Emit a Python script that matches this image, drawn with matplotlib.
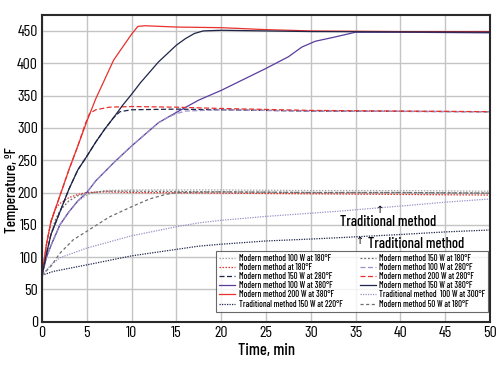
import matplotlib
matplotlib.use("Agg")
import matplotlib.pyplot as plt

plt.rcParams['font.family'] = ['Barlow Condensed', 'Roboto Condensed', 'DejaVu Sans']

# time (min) / temperature (F)
t_red380 = [0, 0.5, 1, 2, 3, 4, 5, 6, 7, 8, 9, 10, 10.7, 11.5, 15, 20, 25, 30, 40, 50]
T_red380 = [72, 120, 155, 195, 235, 272, 310, 345, 375, 405, 425, 445, 457, 458, 456, 455, 452, 450, 449, 449]

t_navy380 = [0, 0.5, 1, 2, 3, 4, 5, 6, 7, 8, 9, 10, 11, 12, 13, 14, 15, 16, 17, 18, 20, 30, 50]
T_navy380 = [72, 105, 135, 170, 205, 235, 256, 278, 298, 316, 335, 352, 370, 386, 402, 415, 428, 438, 446, 450, 451, 449, 448]

t_purp380 = [0, 0.5, 1, 2, 3, 4, 5, 6, 7, 8, 9, 10, 11, 12, 13, 14, 15, 17.5, 20, 22.5, 25, 27.5, 29, 30.5, 32.5, 35, 40, 50]
T_purp380 = [72, 100, 118, 150, 170, 187, 200, 218, 232, 246, 259, 272, 284, 296, 308, 316, 324, 343, 358, 375, 392, 410, 425, 434, 440, 448, 448, 447]

t_red280 = [0, 0.5, 1, 2, 3, 4, 4.8, 5.3, 6, 7.5, 10, 15, 20, 30, 40, 50]
T_red280 = [72, 120, 155, 195, 235, 272, 305, 322, 328, 332, 333, 332, 330, 327, 326, 325]

t_navy280 = [0, 0.5, 1, 2, 3, 4, 5, 6, 7, 8, 8.7, 10, 15, 20, 30, 50]
T_navy280 = [72, 105, 135, 170, 205, 235, 256, 278, 298, 316, 325, 328, 329, 328, 326, 325]

t_purp280 = [0, 0.5, 1, 2, 3, 4, 5, 6, 7, 8, 9, 10, 11, 12, 13, 14, 15, 16, 20, 30, 50]
T_purp280 = [72, 100, 118, 150, 170, 187, 200, 218, 232, 246, 259, 272, 284, 296, 308, 316, 322, 326, 328, 326, 325]

t_red180 = [0, 0.5, 1, 1.5, 2, 3, 4, 5, 7, 10, 20, 30, 40, 50]
T_red180 = [72, 120, 155, 175, 183, 192, 197, 200, 201, 200, 199, 198, 197, 196]

t_m150_180 = [0, 0.5, 1, 1.5, 2, 3, 4, 5, 7, 10, 20, 30, 40, 50]
T_m150_180 = [72, 105, 135, 158, 172, 187, 195, 199, 202, 202, 201, 200, 200, 199]

t_m100_180 = [0, 0.5, 1, 2, 3, 4, 5, 5.5, 7, 10, 20, 30, 40, 50]
T_m100_180 = [72, 100, 118, 150, 170, 187, 196, 199, 203, 204, 204, 203, 203, 202]

t_m50_180 = [0, 1, 2, 3.5, 5, 7.5, 10, 12, 13.8, 15, 20, 30, 40, 50]
T_m50_180 = [72, 86, 106, 127, 140, 162, 178, 190, 197, 200, 201, 200, 200, 199]

t_trad300 = [0, 1, 2, 5, 10, 15, 17.5, 20, 25, 30, 33, 40, 45, 50]
T_trad300 = [72, 88, 99, 114, 133, 147, 153, 157, 163, 168, 171, 179, 185, 190]

t_trad220 = [0, 1.3, 5, 10, 15, 17.5, 20, 25, 30, 33, 40, 45, 50]
T_trad220 = [72, 78, 88, 102, 112, 117, 120, 125, 128, 130, 135, 139, 142]

xticks = list(range(0, 51, 5))
yticks = list(range(0, 451, 50))

red = '#e8302c'
navy = '#1e2548'
purple = '#5a3c9e'
lav = '#9c90c8'
gray = '#6e6e6e'
lgray = '#a8a8a8'

fig = plt.figure(figsize=(5, 3.69), dpi=100)
ax = fig.add_axes([0.084, 0.128, 0.896, 0.832])

# column 1 of legend
l1 = ax.plot(t_m100_180, T_m100_180, color=lgray, lw=0.9, ls=(0, (1.2, 1.2)), label="Modern method 100 W at 180°F")
l2 = ax.plot(t_red180, T_red180, color=red, lw=0.9, ls=(0, (1.2, 1.2)), label="Modern method at 180°F")
l3 = ax.plot(t_navy280, T_navy280, color=navy, lw=0.9, ls=(0, (4, 2)), label="Modern method 150 W at 280°F")
l4 = ax.plot(t_purp380, T_purp380, color=purple, lw=0.9, label="Modern method 100 W at 380°F")
l5 = ax.plot(t_red380, T_red380, color=red, lw=0.9, label="Modern method 200 W at 380°F")
l6 = ax.plot(t_trad220, T_trad220, color=navy, lw=0.9, ls=(0, (1, 1)), label="Traditional method 150 W at 220°F")
# column 2
l7 = ax.plot(t_m150_180, T_m150_180, color=gray, lw=0.9, ls=(0, (1.5, 1.5)), label="Modern method 150 W at 180°F")
l8 = ax.plot(t_purp280, T_purp280, color=lav, lw=0.9, ls=(0, (4, 2)), label="Modern method 100 W at 280°F")
l9 = ax.plot(t_red280, T_red280, color=red, lw=0.9, ls=(0, (4, 2)), label="Modern method 200 W at 280°F")
l10 = ax.plot(t_navy380, T_navy380, color=navy, lw=0.9, label="Modern method 150 W at 380°F")
l11 = ax.plot(t_trad300, T_trad300, color=lav, lw=0.9, ls=(0, (1, 1)), label="Traditional method  100 W at 300°F")
l12 = ax.plot(t_m50_180, T_m50_180, color=gray, lw=0.9, ls=(0, (2.5, 2)), label="Modern method 50 W at 180°F")

ax.set_xlim(0, 50)
ax.set_ylim(0, 475)
ax.set_xticks(xticks)
ax.set_yticks(yticks)
ax.grid(True, color='#c4c4c4', lw=1)
ax.set_axisbelow(True)
for s in ax.spines.values():
    s.set_color('#2a2a2a')
    s.set_linewidth(1.5)
ax.tick_params(length=0, pad=3, labelsize=11.5)

ax.set_xlabel("Time, min", fontsize=12, labelpad=2, weight='medium')
ax.set_ylabel("Temperature, ºF", fontsize=11, weight='medium')
ax.yaxis.set_label_coords(-0.052, 0.43)

ax.text(37.7, 180, "↑", fontsize=7, ha='center', va='top', family=['DejaVu Sans'])
ax.text(38.6, 154, "Traditional method", fontsize=10.5, ha='center', va='center', weight='medium')
ax.text(35.5, 132, "↑", fontsize=7, ha='center', va='top', family=['DejaVu Sans'])
ax.text(36.4, 120, "Traditional method", fontsize=10.5, ha='left', va='center', weight='medium')

lns = l1 + l2 + l3 + l4 + l5 + l6 + l7 + l8 + l9 + l10 + l11 + l12
labs = [l.get_label() for l in lns]
leg = ax.legend(lns, labs, ncol=2, loc='lower right', bbox_to_anchor=(0.996, 0.033),
                handlelength=1.8, labelspacing=0.02, columnspacing=2.0,
                borderpad=0.35, handletextpad=0.4, borderaxespad=0, frameon=True,
                fancybox=False, prop={'size': 6.3, 'weight': 'medium'})
leg.get_frame().set_edgecolor('#444444')
leg.get_frame().set_linewidth(0.8)

fig.savefig("out.png", dpi=100)
